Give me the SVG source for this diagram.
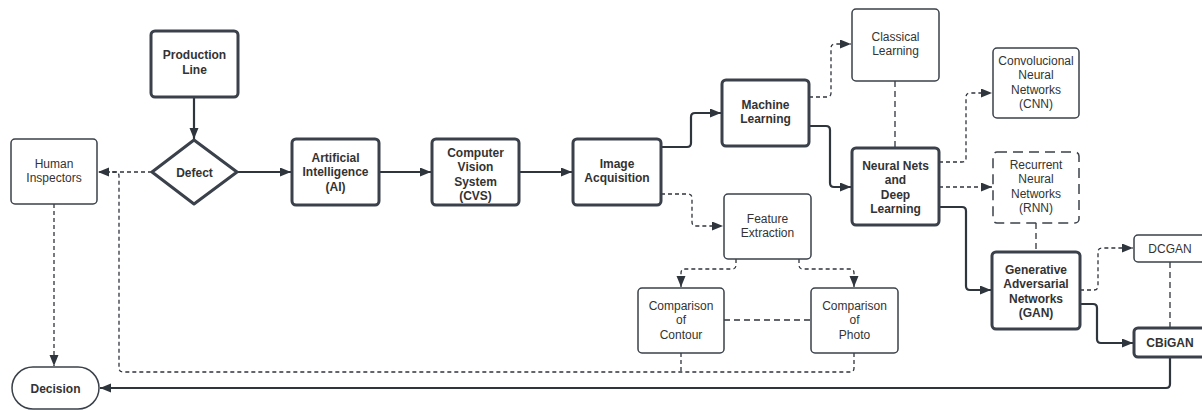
<svg xmlns="http://www.w3.org/2000/svg" width="1202" height="410" viewBox="0 0 1202 410">
<defs>
<style>
text{font-family:"Liberation Sans",Arial,sans-serif;font-size:12px;fill:#333;text-anchor:middle}
.b{font-weight:bold}
.thick{fill:#fff;stroke:#3a414a;stroke-width:3}
.thin{fill:#fff;stroke:#3a414a;stroke-width:1.5}
.dbox{fill:#fff;stroke:#3a414a;stroke-width:1.5;stroke-dasharray:10 6}
.solid{fill:none;stroke:#2f353d;stroke-width:2.2}
.dash{fill:none;stroke:#2f353d;stroke-width:1.3;stroke-dasharray:4 3}
.ldash{fill:none;stroke:#2f353d;stroke-width:1.3;stroke-dasharray:6 4}
</style>
<marker id="ah" markerUnits="userSpaceOnUse" markerWidth="12" markerHeight="10" refX="11" refY="4.5" orient="auto">
<path d="M0,0 L11,4.5 L0,9 z" fill="#2f353d"/>
</marker>
</defs>
<rect width="1202" height="410" fill="#fff"/>
<g id="connectors">
<path class="solid" d="M194,97 V139" marker-end="url(#ah)"/>
<path class="solid" d="M237,172 H291" marker-end="url(#ah)"/>
<path class="solid" d="M379,172 H431" marker-end="url(#ah)"/>
<path class="solid" d="M519,172 H572" marker-end="url(#ah)"/>
<path class="solid" d="M661,147 H687 Q691,147 691,143 V117 Q691,113 695,113 H721" marker-end="url(#ah)"/>
<path class="solid" d="M809,126 H826 Q830,126 830,130 V183 Q830,187 834,187 H851" marker-end="url(#ah)"/>
<path class="solid" d="M939,207 H962 Q966,207 966,211 V286 Q966,290 970,290 H991" marker-end="url(#ah)"/>
<path class="solid" d="M1080,304 H1093 Q1097,304 1097,308 V339 Q1097,343 1101,343 H1133" marker-end="url(#ah)"/>
<path class="solid" d="M1170,357 V384 Q1170,388 1166,388 H100" marker-end="url(#ah)"/>
<path class="dash" d="M809,97 H827 Q831,97 831,93 V48 Q831,44 835,44 H851" marker-end="url(#ah)"/>
<path class="ldash" d="M895,81 V148"/>
<path class="dash" d="M939,162 H962 Q966,162 966,158 V97 Q966,93 970,93 H992" marker-end="url(#ah)"/>
<path class="dash" d="M939,187 H992" marker-end="url(#ah)"/>
<path class="ldash" d="M1036,223 V252"/>
<path class="dash" d="M1080,290 H1094 Q1098,290 1098,286 V252 Q1098,248 1102,248 H1133" marker-end="url(#ah)"/>
<path class="ldash" d="M1170,262 V328"/>
<path class="dash" d="M661,194 H688 Q692,194 692,198 V222 Q692,226 696,226 H723" marker-end="url(#ah)"/>
<path class="dash" d="M736,259 V265 Q736,269 732,269 H685 Q681,269 681,273 V287" marker-end="url(#ah)"/>
<path class="dash" d="M799,259 V265 Q799,269 803,269 H850 Q854,269 854,273 V287" marker-end="url(#ah)"/>
<path class="ldash" d="M724,320 H811"/>
<path class="dash" d="M152,172 H98" marker-end="url(#ah)"/>
<path class="dash" d="M854,353 V368 Q854,372 850,372 H123 Q119,372 119,368 V176 Q119,172 115,172 H112"/>
<path class="dash" d="M681,353 V372"/>
<path class="dash" d="M54,204 V366" marker-end="url(#ah)"/>
</g>
<g id="production-line"><rect class="thick" x="151" y="31" width="87" height="66" rx="4"/><text class="b" x="194.5" y="59">Production</text><text class="b" x="194.5" y="73.5">Line</text></g>
<g id="defect"><path class="thick" d="M194,140 L237,172 L194,204 L152,172 Z" stroke-linejoin="round"/><text class="b" x="194.5" y="176.5">Defect</text></g>
<g id="human-inspectors"><rect class="thin" x="11" y="139" width="86" height="65" rx="4"/><text x="54" y="167.5">Human</text><text x="54" y="182">Inspectors</text></g>
<g id="decision"><rect class="thin" x="12" y="367" width="87" height="42" rx="21"/><text class="b" x="55.5" y="392.5">Decision</text></g>
<g id="ai"><rect class="thick" x="292" y="139" width="87" height="66" rx="4"/><text class="b" x="335.5" y="161.5">Artificial</text><text class="b" x="335.5" y="176">Intelligence</text><text class="b" x="335.5" y="190.5">(AI)</text></g>
<g id="cvs"><rect class="thick" x="432" y="139" width="87" height="66" rx="4"/><text class="b" x="475.5" y="156.5">Computer</text><text class="b" x="475.5" y="171">Vision</text><text class="b" x="475.5" y="185.5">System</text><text class="b" x="475.5" y="200">(CVS)</text></g>
<g id="image-acquisition"><rect class="thick" x="573" y="139" width="88" height="66" rx="4"/><text class="b" x="617" y="167.5">Image</text><text class="b" x="617" y="182">Acquisition</text></g>
<g id="machine-learning"><rect class="thick" x="722" y="80" width="87" height="66" rx="4"/><text class="b" x="765.5" y="108.5">Machine</text><text class="b" x="765.5" y="123">Learning</text></g>
<g id="classical-learning"><rect class="thin" x="852" y="9" width="87" height="72" rx="4"/><text x="895.5" y="40.5">Classical</text><text x="895.5" y="55">Learning</text></g>
<g id="neural-nets"><rect class="thick" x="852" y="148" width="87" height="77" rx="4"/><text class="b" x="895.5" y="169.5">Neural Nets</text><text class="b" x="895.5" y="184">and</text><text class="b" x="895.5" y="198.5">Deep</text><text class="b" x="895.5" y="213">Learning</text></g>
<g id="cnn"><rect class="thin" x="993" y="48" width="86" height="70" rx="4"/><text x="1036" y="64.5">Convolucional</text><text x="1036" y="79">Neural</text><text x="1036" y="93.5">Networks</text><text x="1036" y="108">(CNN)</text></g>
<g id="rnn"><rect class="dbox" x="993" y="152" width="86" height="71" rx="4"/><text x="1036" y="168.5">Recurrent</text><text x="1036" y="183">Neural</text><text x="1036" y="197.5">Networks</text><text x="1036" y="212">(RNN)</text></g>
<g id="gan"><rect class="thick" x="992" y="252" width="88" height="77" rx="4"/><text class="b" x="1036" y="273.5">Generative</text><text class="b" x="1036" y="288">Adversarial</text><text class="b" x="1036" y="302.5">Networks</text><text class="b" x="1036" y="317">(GAN)</text></g>
<g id="dcgan"><rect class="thin" x="1134" y="235" width="72" height="27" rx="4"/><text x="1170" y="252.5">DCGAN</text></g>
<g id="cbigan"><rect class="thick" x="1134" y="328" width="72" height="29" rx="4"/><text class="b" x="1170" y="346.5">CBiGAN</text></g>
<g id="feature-extraction"><rect class="thin" x="724" y="194" width="87" height="65" rx="4"/><text x="767.5" y="222.5">Feature</text><text x="767.5" y="237">Extraction</text></g>
<g id="comparison-contour"><rect class="thin" x="638" y="288" width="86" height="65" rx="4"/><text x="681" y="309.5">Comparison</text><text x="681" y="324">of</text><text x="681" y="338.5">Contour</text></g>
<g id="comparison-photo"><rect class="thin" x="811" y="288" width="87" height="65" rx="4"/><text x="854.5" y="309.5">Comparison</text><text x="854.5" y="324">of</text><text x="854.5" y="338.5">Photo</text></g>
</svg>
